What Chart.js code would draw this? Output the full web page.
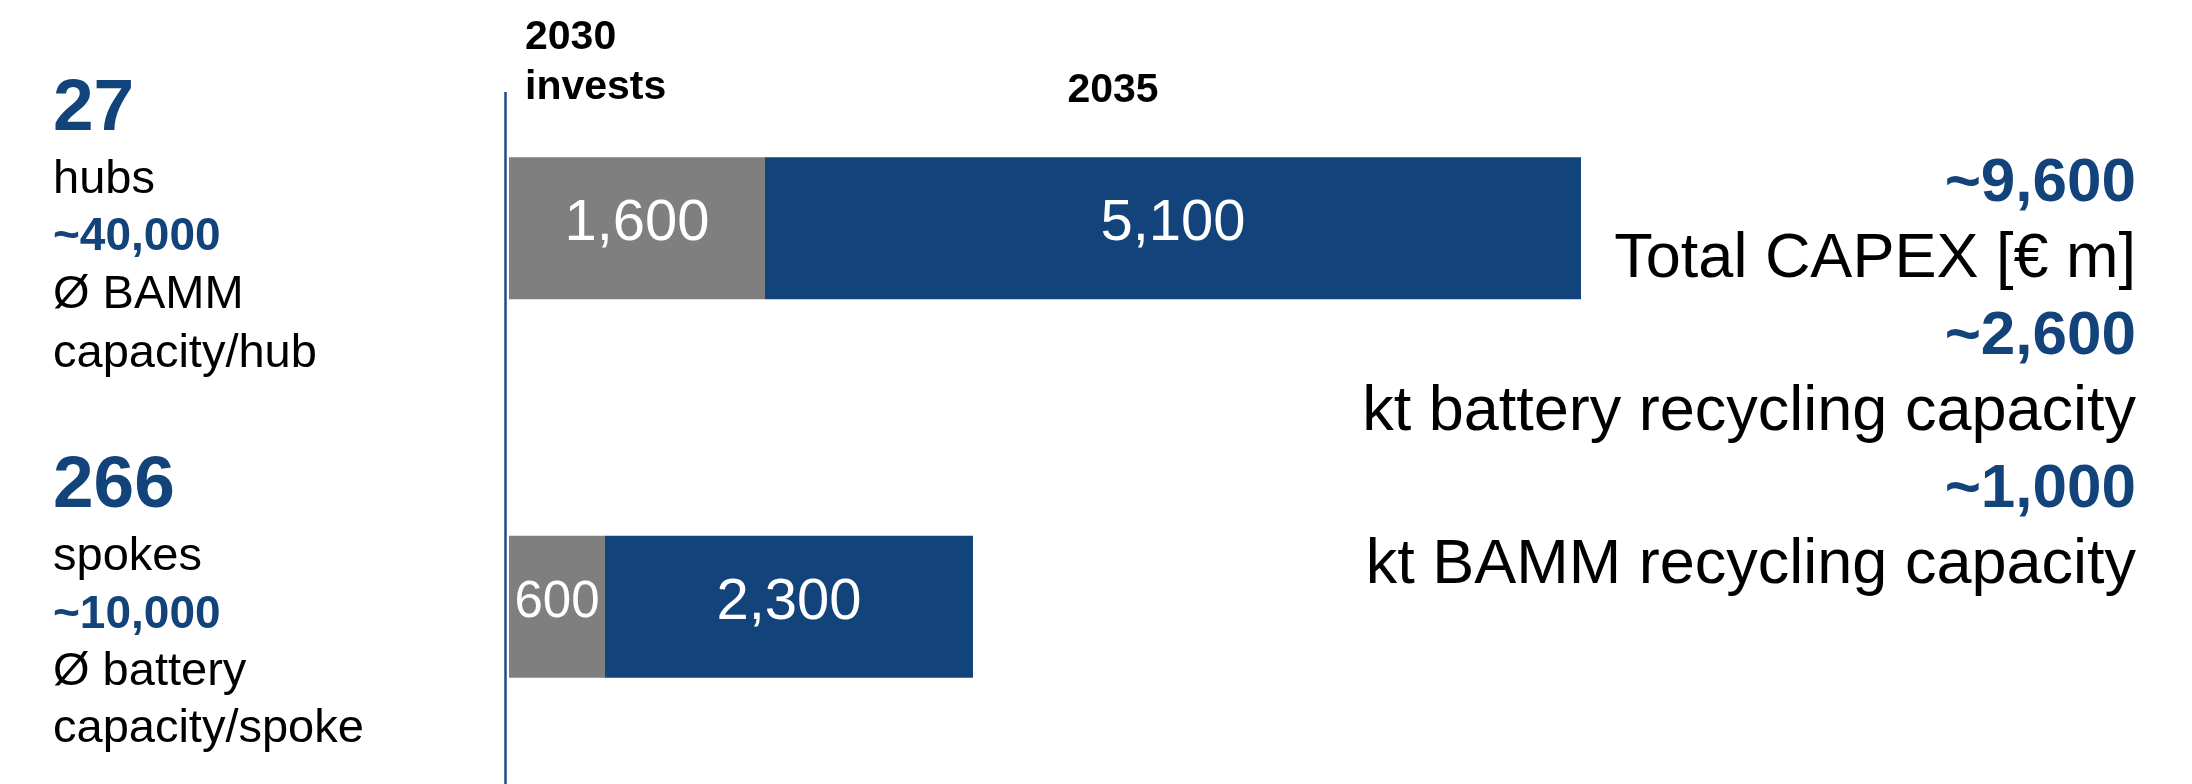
<!DOCTYPE html>
<html>
<head>
<meta charset="utf-8">
<script src="https://cdn.jsdelivr.net/npm/chart.js@4"></script>
<style>
  html, body { margin: 0; padding: 0; background: #ffffff; overflow: hidden; }
  #wrap { position: relative; width: 2192px; height: 784px; overflow: hidden; }
  canvas { position: absolute; left: 0; top: 0; }
  .t { position: absolute; white-space: nowrap; font-family: "Liberation Sans", Arial, sans-serif; }
</style>
</head>
<body>
<div id="wrap">
  <canvas id="c" width="2192" height="800"></canvas>
</div>
<script>
// Categories and investment segments (€ m)
const categories = ['hubs', 'spokes'];
const invest2030 = [1600, 600];
const invest2035 = [5100, 2300];
const seriesNames = ['2030 invests', '2035'];

// Key figures shown beside the bars
const hubFigures = ['27', 'hubs', '~40,000', 'Ø BAMM', 'capacity/hub'];
const spokeFigures = ['266', 'spokes', '~10,000', 'Ø battery', 'capacity/spoke'];
const totalFigures = ['~9,600', 'Total CAPEX [€ m]', '~2,600', 'kt battery recycling capacity', '~1,000', 'kt BAMM recycling capacity'];

const BLUE = '#12437A';
const GREY = '#7F7F7F';
const FONT = '"Liberation Sans", Arial, sans-serif';

const wrap = document.getElementById('wrap');
// Places a text so that its alphabetic baseline sits at `baseline`
function addText(text, x, baseline, size, bold, color, align) {
  const el = document.createElement('div');
  el.className = 't';
  el.textContent = text;
  el.style.fontSize = size + 'px';
  el.style.lineHeight = size + 'px';
  el.style.fontWeight = bold ? '700' : '400';
  el.style.color = color;
  el.style.top = (baseline - 0.8465 * size) + 'px';
  if (align === 'right') {
    el.style.right = (2192 - x) + 'px';
    el.style.textAlign = 'right';
  } else if (align === 'center') {
    el.style.left = (x - 300) + 'px';
    el.style.width = '600px';
    el.style.textAlign = 'center';
  } else {
    el.style.left = x + 'px';
  }
  wrap.appendChild(el);
}

// Left-hand key figures
function figureBlock(lines, baselines) {
  addText(lines[0], 53, baselines[0], 73, true, BLUE);
  addText(lines[1], 53, baselines[1], 47, false, '#000');
  addText(lines[2], 53, baselines[2], 46, true, BLUE);
  addText(lines[3], 53, baselines[3], 47, false, '#000');
  addText(lines[4], 53, baselines[4], 47, false, '#000');
}
figureBlock(hubFigures, [130, 193, 250, 308, 367]);
figureBlock(spokeFigures, [507, 570, 628, 685, 742]);

// Right-hand totals
const rightBase = [201, 277, 354, 430, 507, 583];
totalFigures.forEach((txt, i) => {
  const isValue = i % 2 === 0;
  addText(txt, 2136, rightBase[i], isValue ? 62 : 63, isValue, isValue ? BLUE : '#000', 'right');
});

// Column headers
const hdr = seriesNames[0].split(' ');
addText(hdr[0], 525, 50, 41, true, '#000');
addText(hdr[1], 525, 100, 41, true, '#000');
addText(seriesNames[1], 1113, 103, 41, true, '#000', 'center');

// Value labels centred in each bar segment, shrunk if the segment is narrow
const segmentLabels = {
  id: 'segmentLabels',
  afterDatasetsDraw(chart) {
    const ctx = chart.ctx;
    ctx.save();
    ctx.fillStyle = '#ffffff';
    ctx.textAlign = 'center';
    ctx.textBaseline = 'middle';
    chart.data.datasets.forEach((ds, di) => {
      chart.getDatasetMeta(di).data.forEach((el, i) => {
        const txt = ds.data[i].toLocaleString('en-US');
        const w = Math.abs(el.x - el.base);
        let size = 58;
        ctx.font = size + 'px ' + FONT;
        const tw = ctx.measureText(txt).width;
        if (tw > w - 10) size = Math.floor(size * (w - 10) / tw);
        ctx.font = size + 'px ' + FONT;
        ctx.fillText(txt, (el.x + el.base) / 2, el.y - 4);
      });
    });
    ctx.restore();
  }
};

// Vertical axis line left of the bars
const axisLine = {
  id: 'axisLine',
  afterDraw(chart) {
    const ctx = chart.ctx;
    const x = chart.scales.x.left - 3.5;
    ctx.save();
    ctx.strokeStyle = '#1B4C8A';
    ctx.lineWidth = 2.5;
    ctx.beginPath();
    ctx.moveTo(x, 92);
    ctx.lineTo(x, 800);
    ctx.stroke();
    ctx.restore();
  }
};

new Chart(document.getElementById('c'), {
  type: 'bar',
  data: {
    labels: categories,
    datasets: [
      { label: seriesNames[0], data: invest2030, backgroundColor: GREY, borderWidth: 0 },
      { label: seriesNames[1], data: invest2035, backgroundColor: BLUE, borderWidth: 0 }
    ]
  },
  options: {
    indexAxis: 'y',
    responsive: false,
    animation: false,
    events: [],
    layout: { padding: { left: 509, right: 83, top: 39, bottom: 4 } },
    datasets: { bar: { categoryPercentage: 1, barPercentage: 0.375 } },
    scales: {
      x: { stacked: true, min: 0, max: 10000, display: false },
      y: { stacked: true, display: false }
    },
    plugins: {
      legend: { display: false },
      tooltip: { enabled: false }
    }
  },
  plugins: [segmentLabels, axisLine]
});
</script>
</body>
</html>
